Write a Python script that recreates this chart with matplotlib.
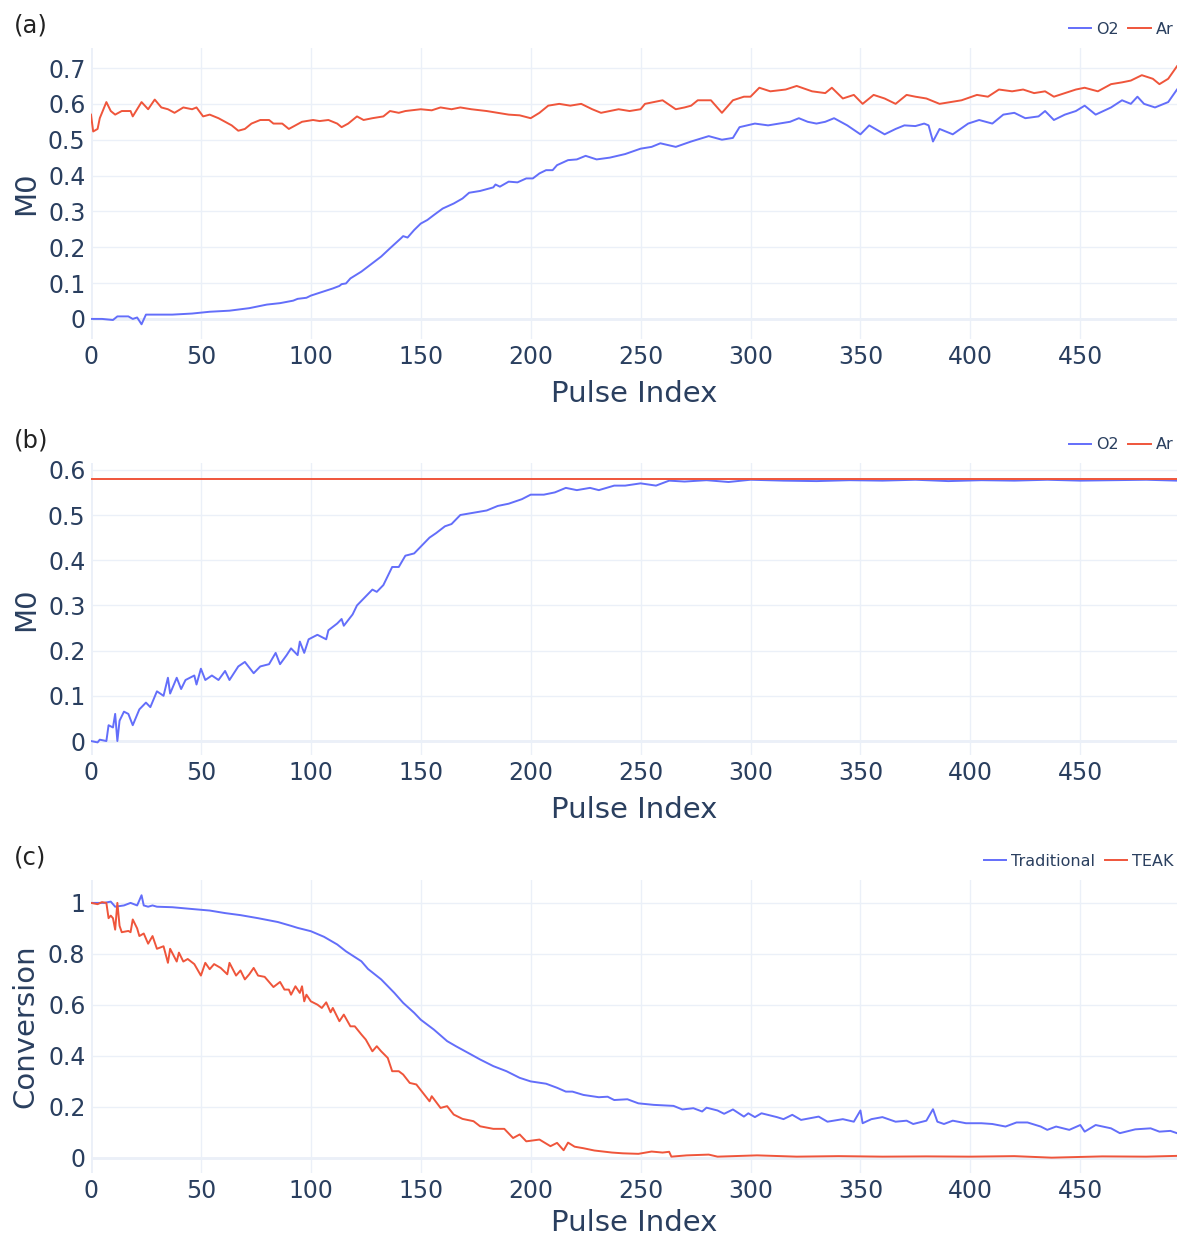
"""Pulse response: M0 of O2/Ar and conversion, three stacked panels"""
import matplotlib
matplotlib.use('Agg')
import matplotlib.pyplot as plt
from matplotlib.ticker import FuncFormatter, MultipleLocator

# Panel (a): measured M0
o2_a_x = [0, 5, 10, 12, 17, 19, 21, 23, 25, 28,
          37, 46, 54, 63, 72, 80, 86, 92, 94, 98,
          100, 104, 110, 113, 114, 116, 118, 123, 126, 132,
          136, 141, 142, 144, 147, 150, 153, 156, 160, 165,
          169, 172, 177, 183, 184, 186, 190, 194, 198, 201,
          204, 207, 210, 212, 217, 221, 225, 230, 236, 243,
          250, 255, 259, 266, 273, 281, 287, 292, 295, 302,
          308, 313, 318, 322, 326, 330, 334, 338, 344, 350,
          354, 361, 366, 370, 375, 379, 381, 383, 386, 392,
          399, 404, 410, 415, 420, 425, 431, 434, 438, 443,
          448, 452, 457, 464, 469, 473, 476, 479, 484, 490,
          494]
o2_a = [0.000, 0.000, -0.003, 0.007, 0.007, 0.000, 0.004, -0.015, 0.012, 0.012,
        0.012, 0.015, 0.020, 0.023, 0.030, 0.040, 0.044, 0.051, 0.056, 0.059,
        0.065, 0.073, 0.085, 0.092, 0.097, 0.099, 0.113, 0.132, 0.146, 0.174,
        0.197, 0.225, 0.231, 0.227, 0.248, 0.266, 0.276, 0.290, 0.308, 0.322,
        0.336, 0.352, 0.357, 0.367, 0.375, 0.369, 0.383, 0.381, 0.392, 0.392,
        0.406, 0.415, 0.415, 0.429, 0.443, 0.445, 0.455, 0.445, 0.450, 0.460,
        0.475, 0.480, 0.490, 0.480, 0.495, 0.510, 0.500, 0.505, 0.535, 0.545,
        0.540, 0.545, 0.550, 0.560, 0.550, 0.545, 0.550, 0.560, 0.540, 0.515,
        0.540, 0.515, 0.530, 0.540, 0.538, 0.545, 0.540, 0.495, 0.530, 0.515,
        0.545, 0.555, 0.545, 0.570, 0.575, 0.560, 0.565, 0.580, 0.555, 0.570,
        0.580, 0.595, 0.570, 0.590, 0.610, 0.600, 0.620, 0.600, 0.590, 0.605,
        0.640]

ar_a_x = [0, 1, 3, 4, 7, 9, 11, 14, 18, 19,
          23, 26, 29, 32, 35, 38, 42, 46, 48, 51,
          54, 58, 61, 64, 67, 70, 73, 77, 81, 83,
          87, 90, 93, 96, 101, 104, 108, 112, 114, 117,
          121, 124, 128, 133, 136, 140, 143, 150, 155, 159,
          164, 168, 173, 180, 185, 190, 195, 200, 204, 208,
          213, 218, 223, 228, 232, 236, 240, 245, 250, 252,
          256, 260, 266, 270, 273, 276, 282, 287, 292, 297,
          300, 304, 309, 316, 321, 328, 334, 337, 342, 347,
          351, 356, 361, 366, 371, 375, 380, 386, 391, 396,
          403, 408, 413, 419, 424, 429, 434, 438, 443, 448,
          452, 458, 464, 469, 473, 478, 483, 486, 490, 494]
ar_a = [0.570, 0.523, 0.530, 0.560, 0.605, 0.580, 0.570, 0.580, 0.580, 0.565,
        0.605, 0.585, 0.612, 0.590, 0.585, 0.575, 0.590, 0.585, 0.590, 0.565,
        0.570, 0.560, 0.550, 0.540, 0.525, 0.530, 0.545, 0.555, 0.555, 0.545,
        0.545, 0.530, 0.540, 0.550, 0.555, 0.552, 0.555, 0.545, 0.535, 0.545,
        0.565, 0.555, 0.560, 0.565, 0.580, 0.575, 0.580, 0.585, 0.582, 0.590,
        0.585, 0.590, 0.585, 0.580, 0.575, 0.570, 0.568, 0.560, 0.575, 0.595,
        0.600, 0.595, 0.600, 0.585, 0.575, 0.580, 0.585, 0.580, 0.585, 0.600,
        0.605, 0.610, 0.585, 0.590, 0.595, 0.610, 0.610, 0.575, 0.610, 0.620,
        0.620, 0.645, 0.635, 0.640, 0.650, 0.635, 0.630, 0.645, 0.615, 0.625,
        0.600, 0.625, 0.615, 0.600, 0.625, 0.620, 0.615, 0.600, 0.605, 0.610,
        0.625, 0.620, 0.640, 0.635, 0.640, 0.630, 0.635, 0.620, 0.630, 0.640,
        0.645, 0.635, 0.655, 0.660, 0.665, 0.680, 0.670, 0.655, 0.670, 0.705]

# Panel (b): TEAK M0
o2_b_x = [0, 3, 4, 7, 8, 10, 11, 12, 13, 15,
          17, 19, 22, 25, 27, 30, 33, 35, 36, 39,
          41, 43, 47, 48, 50, 52, 55, 58, 61, 63,
          67, 70, 74, 77, 81, 84, 86, 89, 91, 94,
          95, 97, 99, 103, 107, 108, 112, 114, 115, 119,
          121, 124, 128, 130, 133, 135, 137, 140, 143, 147,
          150, 154, 157, 161, 164, 168, 174, 180, 185, 190,
          196, 200, 206, 211, 216, 221, 227, 231, 238, 243,
          250, 257, 263, 270, 280, 290, 300, 315, 330, 345,
          360, 375, 390, 405, 420, 435, 450, 465, 480, 494]
o2_b = [0.000, -0.003, 0.003, 0.000, 0.035, 0.030, 0.060, 0.000, 0.045, 0.065,
        0.060, 0.035, 0.070, 0.085, 0.075, 0.110, 0.100, 0.140, 0.105, 0.140,
        0.115, 0.135, 0.145, 0.125, 0.160, 0.135, 0.145, 0.135, 0.155, 0.135,
        0.165, 0.175, 0.150, 0.165, 0.170, 0.195, 0.170, 0.190, 0.205, 0.190,
        0.220, 0.195, 0.225, 0.235, 0.225, 0.245, 0.260, 0.270, 0.255, 0.280,
        0.300, 0.315, 0.335, 0.330, 0.345, 0.365, 0.385, 0.385, 0.410, 0.415,
        0.430, 0.450, 0.460, 0.475, 0.480, 0.500, 0.505, 0.510, 0.520, 0.525,
        0.535, 0.545, 0.545, 0.550, 0.560, 0.555, 0.560, 0.555, 0.565, 0.565,
        0.570, 0.565, 0.576, 0.574, 0.577, 0.573, 0.578, 0.576, 0.575, 0.577,
        0.576, 0.578, 0.575, 0.577, 0.576, 0.578, 0.576, 0.577, 0.578, 0.576]
ar_b_x = [0, 494]
ar_b = [0.579, 0.579]

# Panel (c): conversion
trad_x = [0, 6, 9, 11, 15, 18, 21, 23, 24, 26,
          28, 30, 37, 46, 54, 61, 68, 76, 85, 91,
          94, 100, 106, 112, 116, 123, 126, 132, 138, 142,
          147, 150, 156, 162, 166, 173, 177, 183, 189, 195,
          200, 207, 212, 216, 219, 224, 231, 235, 238, 244,
          249, 256, 265, 269, 274, 278, 280, 285, 288, 292,
          297, 299, 302, 305, 312, 315, 319, 323, 331, 335,
          342, 347, 350, 351, 355, 360, 366, 371, 374, 380,
          383, 385, 388, 392, 398, 405, 410, 416, 421, 426,
          432, 435, 439, 445, 450, 452, 457, 464, 468, 475,
          482, 486, 491, 494]
trad = [1.000, 1.000, 1.005, 0.985, 0.990, 1.000, 0.990, 1.030, 0.990, 0.985,
        0.990, 0.985, 0.983, 0.976, 0.970, 0.960, 0.952, 0.940, 0.925, 0.910,
        0.902, 0.889, 0.867, 0.837, 0.810, 0.771, 0.741, 0.700, 0.647, 0.608,
        0.569, 0.542, 0.503, 0.458, 0.438, 0.405, 0.386, 0.360, 0.340, 0.314,
        0.300, 0.291, 0.275, 0.260, 0.260, 0.247, 0.238, 0.240, 0.227, 0.230,
        0.214, 0.208, 0.204, 0.190, 0.195, 0.182, 0.197, 0.186, 0.173, 0.190,
        0.162, 0.175, 0.160, 0.175, 0.160, 0.152, 0.169, 0.149, 0.162, 0.142,
        0.152, 0.142, 0.186, 0.136, 0.152, 0.160, 0.142, 0.146, 0.133, 0.146,
        0.191, 0.142, 0.133, 0.146, 0.136, 0.136, 0.133, 0.123, 0.139, 0.139,
        0.123, 0.110, 0.123, 0.110, 0.129, 0.103, 0.129, 0.116, 0.097, 0.112,
        0.116, 0.103, 0.106, 0.097]

teak_x = [0, 3, 5, 7, 8, 9, 10, 11, 12, 13,
          14, 17, 18, 19, 21, 22, 24, 26, 28, 30,
          33, 35, 36, 39, 40, 42, 44, 47, 50, 52,
          54, 56, 59, 62, 63, 66, 68, 70, 72, 74,
          76, 79, 81, 83, 86, 88, 90, 91, 93, 95,
          96, 97, 98, 100, 103, 105, 107, 109, 110, 113,
          115, 118, 120, 123, 125, 128, 130, 132, 135, 137,
          140, 142, 145, 148, 151, 154, 155, 159, 162, 165,
          169, 174, 177, 183, 188, 192, 195, 198, 204, 209,
          212, 215, 217, 220, 224, 229, 237, 242, 249, 255,
          260, 263, 264, 271, 281, 285, 303, 321, 340, 360,
          380, 400, 420, 437, 460, 480, 494]
teak = [1.000, 0.995, 1.003, 1.000, 0.940, 0.950, 0.940, 0.895, 1.000, 0.910,
        0.885, 0.890, 0.885, 0.935, 0.900, 0.870, 0.880, 0.840, 0.870, 0.820,
        0.830, 0.765, 0.820, 0.770, 0.805, 0.770, 0.780, 0.760, 0.715, 0.765,
        0.740, 0.760, 0.745, 0.720, 0.765, 0.715, 0.735, 0.700, 0.720, 0.745,
        0.715, 0.710, 0.690, 0.670, 0.690, 0.660, 0.660, 0.640, 0.673, 0.647,
        0.673, 0.614, 0.640, 0.614, 0.601, 0.588, 0.610, 0.571, 0.588, 0.536,
        0.562, 0.516, 0.516, 0.484, 0.464, 0.418, 0.438, 0.418, 0.392, 0.340,
        0.340, 0.327, 0.294, 0.288, 0.255, 0.222, 0.242, 0.196, 0.203, 0.170,
        0.153, 0.144, 0.124, 0.114, 0.114, 0.078, 0.092, 0.065, 0.072, 0.046,
        0.059, 0.030, 0.060, 0.044, 0.038, 0.029, 0.021, 0.018, 0.016, 0.025,
        0.021, 0.024, 0.005, 0.010, 0.013, 0.005, 0.010, 0.005, 0.007, 0.005,
        0.006, 0.005, 0.007, 0.001, 0.006, 0.005, 0.008]

BLUE = '#636EFA'
RED = '#EF553B'
TXT = '#2a3f5f'
GRID = '#EBF0F8'

plt.rcParams['font.family'] = ['DejaVu Sans']

fig = plt.figure(figsize=(11.77, 12.39), dpi=100)

panels = [
    # rect, label, ylabel, ylim, ystep, xlabel pad, series
    ([0.0773, 0.7264, 0.9227, 0.2349], '(a)', 'M0', (-0.056, 0.756), 0.1, 8,
     [(o2_a_x, o2_a, BLUE, 'O2'), (ar_a_x, ar_a, RED, 'Ar')]),
    ([0.0773, 0.3906, 0.9227, 0.2357], '(b)', 'M0', (-0.031, 0.615), 0.1, 8,
     [(o2_b_x, o2_b, BLUE, 'O2'), (ar_b_x, ar_b, RED, 'Ar')]),
    ([0.0773, 0.0533, 0.9227, 0.2365], '(c)', 'Conversion', (-0.059, 1.09), 0.2, 5,
     [(trad_x, trad, BLUE, 'Traditional'), (teak_x, teak, RED, 'TEAK')]),
]

fmt = FuncFormatter(lambda v, p: '0' if abs(v) < 1e-9 else '%g' % round(v, 3))

for rect, tag, ylab, ylim, ystep, xpad, series in panels:
    ax = fig.add_axes(rect)
    for xs, ys, col, name in series:
        ax.plot(xs, ys, color=col, lw=1.4, label=name, zorder=3)
    ax.set_xlim(0, 494)
    ax.set_ylim(*ylim)
    ax.xaxis.set_major_locator(MultipleLocator(50))
    ax.yaxis.set_major_locator(MultipleLocator(ystep))
    ax.yaxis.set_major_formatter(fmt)
    ax.grid(color=GRID, lw=1, zorder=0)
    ax.axhline(0, color=GRID, lw=2, zorder=1)
    ax.axvline(0, color=GRID, lw=2, zorder=1)
    for s in ax.spines.values():
        s.set_visible(False)
    ax.tick_params(length=0, labelsize=17, colors=TXT, pad=4)
    ax.set_xlabel('Pulse Index', fontsize=21, color=TXT, labelpad=xpad)
    ax.set_ylabel(ylab, fontsize=21, color=TXT, labelpad=5.8)
    ax.legend(loc='lower right', bbox_to_anchor=(1.004, 1.01), ncol=2, frameon=False,
              fontsize=11.5, labelcolor=TXT, handlelength=1.4, handletextpad=0.3,
              columnspacing=0.6, borderaxespad=0.1)
    fig.text(14 / 1177, rect[1] + rect[3] + 0.0185, tag, fontsize=17.5,
             color='#222222', ha='left', va='center')

fig.savefig('out.png', dpi=100)
plt.close()
